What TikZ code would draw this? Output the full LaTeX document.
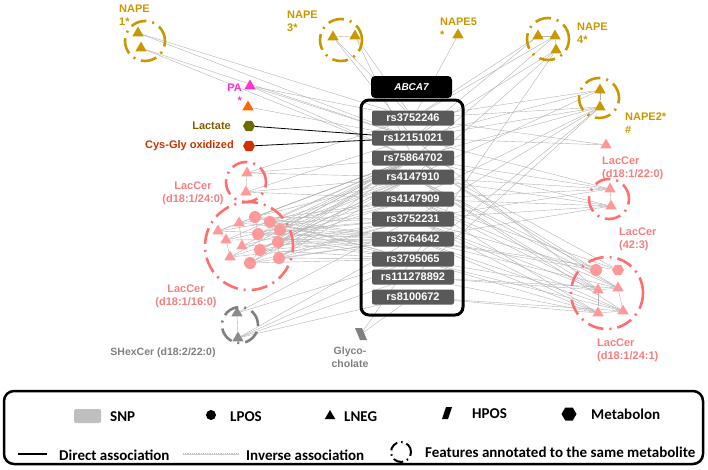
\documentclass[tikz,border=0pt]{standalone}
\usepackage{fontspec}
\setmainfont{Liberation Sans}
\newfontfamily\legfont{Carlito}
\usetikzlibrary{shapes.geometric,backgrounds,positioning}
\definecolor{napegold}{HTML}{C99700}
\definecolor{lacpink}{HTML}{FF9999}
\definecolor{lacdash}{HTML}{FF6F6F}
\definecolor{lactext}{HTML}{F47F7F}
\definecolor{pamag}{HTML}{FF33CC}
\definecolor{orangetri}{HTML}{FF6600}
\definecolor{lacolive}{HTML}{6B6B00}
\definecolor{lactatetext}{HTML}{7F6000}
\definecolor{cysred}{HTML}{CC3300}
\definecolor{snpgray}{HTML}{595959}
\definecolor{shgray}{HTML}{8C8C8C}

\begin{document}
\begin{tikzpicture}[x=1pt,y=-1pt]
% Define styles
\tikzstyle{tri}=[regular polygon, regular polygon sides=3, inner sep=0pt, minimum size=13pt]
\tikzstyle{cnode}=[circle, inner sep=0pt, minimum size=12pt]
\tikzstyle{hexa}=[regular polygon, regular polygon sides=6, inner sep=0pt, minimum size=12pt]
\tikzstyle{snp}=[rectangle, rounded corners=2pt, fill=snpgray, text=white, minimum width=82pt, minimum height=15pt, inner sep=0pt, font=\bfseries\fontsize{11}{12}\selectfont]
\tikzstyle{grp}=[line width=2.6pt, dash pattern=on 16pt off 6pt on 2pt off 6pt]
\tikzstyle{lbl}=[font=\bfseries\fontsize{11}{13}\selectfont, inner sep=0pt]
\tikzstyle{inv}=[gray!60, line width=0.4pt]
\tikzstyle{direct}=[black, line width=0.8pt]
\tikzstyle{legtext}=[font=\legfont\bfseries\fontsize{15}{17}\selectfont, anchor=west, inner sep=0pt]

\useasboundingbox (0,0) rectangle (708,469);

% Gene and SNPs
\node[rectangle, rounded corners=4pt, fill=black, text=white, minimum width=81pt, minimum height=22pt, font=\bfseries\itshape\fontsize{10}{12}\selectfont] (abca) at (411.5,87) {ABCA7};
\draw[line width=3pt, rounded corners=8pt] (361,100) rectangle (463,315);
\foreach \y/\n/\t in {118/1/rs3752246, 138/2/rs12151021, 158/3/rs75864702, 177/4/rs4147910, 199/5/rs4147909, 219/6/rs3752231, 239/7/rs3764642, 259/8/rs3795065, 277/9/rs111278892, 297/10/rs8100672}
  \node[snp] (s\n) at (413,\y) {\t};

% NAPE features
\node[tri, fill=napegold] (n1a) at (138,33) {};
\node[tri, fill=napegold] (n1b) at (141,48) {};
\draw[grp, napegold] (145,41) circle (20pt);
\node[lbl, napegold, align=left, anchor=west] (n1l) at (119,15) {NAPE\\1*};

\node[tri, fill=napegold] (n3a) at (333,37) {};
\node[tri, fill=napegold] (n3b) at (355,36) {};
\draw[grp, napegold] (341,40) circle (21pt);
\node[lbl, napegold, align=left, anchor=west] (n3l) at (287,21) {NAPE\\3*};

\node[tri, fill=napegold] (n5) at (458,35) {};
\node[lbl, napegold, align=left, anchor=west] (n5l) at (440,28) {NAPE5\\*};

\node[tri, fill=napegold] (n4a) at (538,36) {};
\node[tri, fill=napegold] (n4b) at (555,36) {};
\node[tri, fill=napegold] (n4c) at (556,50) {};
\draw[grp, napegold] (548,39) circle (21pt);
\node[lbl, napegold, align=left, anchor=west] (n4l) at (577,33) {NAPE\\4*};

\node[tri, fill=napegold] (n2a) at (600,90) {};
\node[tri, fill=napegold] (n2b) at (600,107) {};
\draw[grp, napegold] (599,98) circle (20pt);
\node[lbl, napegold, align=left, anchor=west] (n2l) at (625,123) {NAPE2*\\\#};

% Other left features
\node[tri, fill=pamag] (pa) at (250,86) {};
\node[lbl, pamag, align=right, anchor=east] (pal) at (242,94) {PA\\*};
\node[tri, fill=orangetri] (otri) at (248,107) {};
\node[hexa, fill=lacolive] (lact) at (249,126) {};
\node[lbl, lactatetext, anchor=east] (lactl) at (231,126) {Lactate};
\node[hexa, fill=cysred] (cys) at (249,146) {};
\node[lbl, cysred, anchor=east] (cysl) at (234,146) {Cys-Gly oxidized};

% LacCer (d18:1/24:0)
\node[tri, fill=lacpink] (t24a) at (247,173) {};
\node[tri, fill=lacpink] (t24b) at (246,192) {};
\draw[grp, lacdash] (246,182) circle (20pt);
\node[lbl, lactext, align=center] (t24l) at (193,193) {LacCer\\(d18:1/24:0)};

% LacCer (d18:1/16:0)
\foreach \n/\x/\y in {la1/218/231, la2/239/223, la3/226/240, la4/242/246, la5/230/257}
  \node[tri, fill=lacpink] (\n) at (\x,\y) {};
\foreach \n/\x/\y in {lc1/255/217, lc2/270/222, lc3/258/234, lc4/280/230, lc5/278/242, lc6/260/250, lc7/279/258, lc8/250/263}
  \node[cnode, fill=lacpink] (\n) at (\x,\y) {};
\draw[grp, lacdash] (249,246) circle (44pt);
\node[lbl, lactext, align=center] (l16l) at (186,296) {LacCer\\(d18:1/16:0)};

% SHexCer and Glycocholate
\node[tri, fill=shgray] (sh1) at (237,313) {};
\node[tri, fill=shgray] (sh2) at (238,338) {};
\draw[grp, gray] (240,325) circle (18pt);
\node[lbl, gray, font=\bfseries\fontsize{10.5}{12}\selectfont] (shl) at (163,353) {SHexCer (d18:2/22:0)};
\coordinate (glyco) at (361,334);
\fill[gray] (glyco) ++(-6,-6) -- ++(7,0) -- ++(5,12) -- ++(-7,0) -- cycle;
\node[lbl, gray, align=center, font=\bfseries\fontsize{10.5}{13}\selectfont] (glycol) at (350,357) {Glyco-\\cholate};

% Right LacCer features
\node[tri, fill=lacpink] (rt) at (606,145) {};
\node[lbl, lactext, align=left, anchor=west] (rtl) at (602,168) {LacCer\\(d18:1/22:0)};
\node[tri, fill=lacpink] (r22a) at (610,189) {};
\node[tri, fill=lacpink] (r22b) at (611,206) {};
\draw[grp, lacdash] (609,199) circle (20pt);
\node[lbl, lactext, align=left, anchor=west] (r42l) at (619,239) {LacCer\\(42:3)};
\node[cnode, fill=lacpink] (rc1) at (596,270) {};
\node[hexa, fill=lacpink] (rh) at (618,270) {};
\foreach \n/\x/\y in {rb1/598/290, rb2/618/288, rb3/598/313, rb4/623/311}
  \node[tri, fill=lacpink] (\n) at (\x,\y) {};
\draw[grp, lacdash] (607,293) circle (36pt);
\node[lbl, lactext, align=left, anchor=west] (r241l) at (597,350) {LacCer\\(d18:1/24:1)};

% Associations
\begin{scope}[on background layer]
\foreach \a/\b in {n1a/s1, n1a/s2, n1b/s2, n1b/s3, n3a/s1, n3a/s2, n3b/s1, n3b/s3, n3a/n3b, n5/s1,
  n4a/s1, n4a/s2, n4b/s1, n4b/s3, n4c/s2, n4c/s4, n4c/glyco, n4a/n4b, n4b/n4c,
  n2a/s1, n2a/s2, n2a/s4, n2b/s1, n2b/s2, n2b/s3, n2b/s5, n2b/s6, n2b/s8, n2b/s9, n2a/n2b,
  pa/s1, pa/s2, pa/s3, otri/s2,
  t24a/s1, t24a/s3, t24a/s4, t24b/s2, t24b/s4, t24b/s5, t24a/t24b,
  sh1/s6, sh1/s8, sh2/s7, sh2/s8, sh2/s9, sh2/s10, sh1/sh2, glyco/s10,
  rt/s1, rt/s2,
  r22a/s2, r22a/s3, r22a/s4, r22a/s5, r22a/s6, r22b/s3, r22b/s4, r22b/s5, r22b/s6, r22b/s7, r22a/r22b,
  rc1/s3, rc1/s4, rc1/s6, rc1/s7, rh/s3, rh/s5, rh/s7,
  rb1/s2, rb1/s4, rb1/s5, rb1/s6, rb1/s8, rb1/s9, rb2/s3, rb2/s4, rb2/s5, rb2/s7, rb2/s9,
  rb3/s5, rb3/s6, rb3/s7, rb3/s8, rb3/s9, rb3/s10, rb4/s4, rb4/s6, rb4/s7, rb4/s8, rb4/s10,
  rb1/rb2, rb1/rb3, rb2/rb4, rb3/rb4,
  la1/la3, la3/la5, la2/la4, la1/la2, lc1/lc3, lc3/lc6, lc6/lc8, lc2/lc4, lc4/lc5, lc5/lc7}
  \draw[inv] (\a) -- (\b);
\foreach \m in {la1,la2,la3,la4,la5}
  \foreach \s in {s3,s5,s7}
    \draw[inv] (\m) -- (\s);
\foreach \m in {lc1,lc2,lc3,lc4,lc5,lc6,lc7,lc8}
  \foreach \s in {s3,s4,s6,s7,s8}
    \draw[inv] (\m) -- (\s);
\draw[direct] (lact) -- (s2);
\draw[direct] (cys) -- (s2);
\end{scope}

% Legend
\draw[line width=2.5pt, rounded corners=10pt] (4,391) rectangle (703,464);
\node[rectangle, rounded corners=2pt, fill=gray!50, minimum width=27pt, minimum height=14pt, inner sep=0pt] (legsnp) at (87.5,416) {};
\node[legtext] (legsnpl) at (110,417) {SNP};
\node[circle, fill=black, minimum size=10pt, inner sep=0pt] (legpos) at (211,415) {};
\node[legtext] (legposl) at (230,417) {LPOS};
\node[tri, fill=black, minimum size=12pt] (legneg) at (330,416) {};
\node[legtext] (legnegl) at (344,417) {LNEG};
\coordinate (leghpos) at (447,413);
\fill[black] (leghpos) ++(-5,6) -- ++(6,0) -- ++(4,-12) -- ++(-6,0) -- cycle;
\node[legtext] (leghposl) at (472,414) {HPOS};
\node[hexa, fill=black, minimum size=15pt] (legmet) at (569,414) {};
\node[legtext] (legmetl) at (591,414) {Metabolon};
\coordinate (d1) at (18,454);
\coordinate (d2) at (47,454);
\draw[direct, line width=1.2pt] (d1) -- (d2);
\node[legtext] (legdirl) at (59,455) {Direct association};
\coordinate (i1) at (183,454);
\coordinate (i2) at (239,454);
\draw[gray!50, line width=1.2pt, densely dotted] (i1) -- (i2);
\draw[gray!40, line width=0.5pt] (i1) -- (i2);
\node[legtext] (leginvl) at (246,455) {Inverse association};
\draw[line width=2pt, dash pattern=on 10pt off 4pt on 1.5pt off 4pt] (401,452) circle (10pt);
\node[legtext] (legfeatl) at (425,452) {Features annotated to the same metabolite};
\end{tikzpicture}
\end{document}
